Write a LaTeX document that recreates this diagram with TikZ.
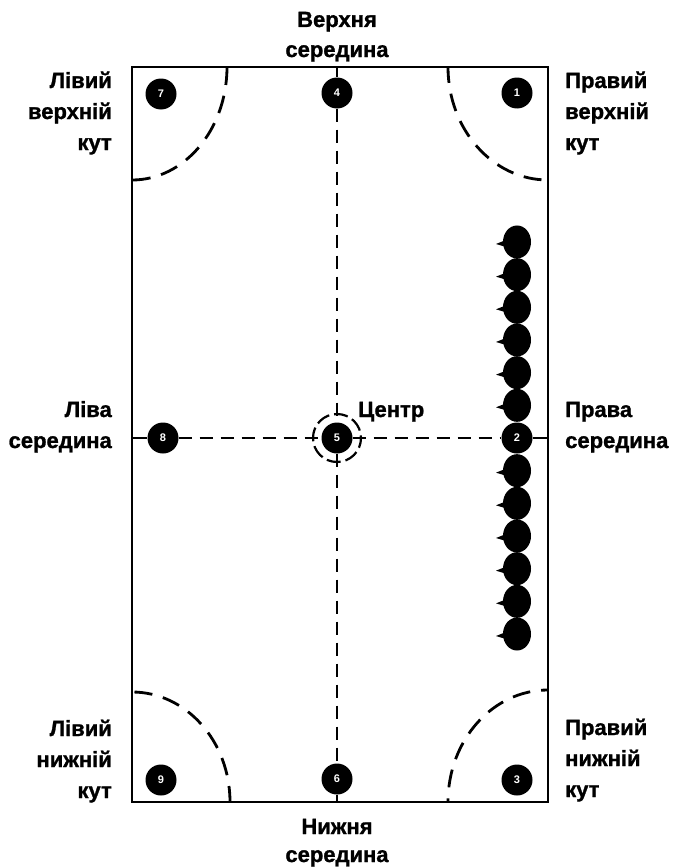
\documentclass[tikz,border=0pt]{standalone}
\usepackage{fontspec}
\setmainfont{Liberation Sans}
\newfontfamily\heavyfont{Liberation Sans Bold}[FakeBold=1.2]
\begin{document}
\begin{tikzpicture}[x=1pt,y=-1pt,
  spot/.style={circle, fill=black, minimum size=31pt, inner sep=0pt, text=white,
    font=\fontsize{11}{11}\selectfont\bfseries},
  lbl/.style={font=\fontsize{22}{31}\selectfont\heavyfont, inner sep=0pt},
  axis/.style={line width=2.2pt, dash pattern=on 13pt off 8pt},
  zone/.style={line width=2.8pt, dash pattern=on 18pt off 11pt},
  teardrop/.pic={
    \fill (0,0) ellipse[x radius=14, y radius=16.5];
    \fill (-11,-2) -- (-21,2) -- (-11,5) -- cycle;
  }]
\useasboundingbox (0,0) rectangle (680,867);

% field outline
\coordinate (tl) at (132,67);
\coordinate (br) at (548,802);
\draw[line width=2pt] (tl) rectangle (br);

% dashed corner zones
\begin{scope}
  \clip (tl) rectangle (br);
  \draw[zone] (132,67)  ellipse[x radius=95, y radius=113];
  \draw[zone] (548,67)  ellipse[x radius=100, y radius=113];
  \draw[zone] (132,802) ellipse[x radius=98, y radius=110];
  \draw[zone] (548,802) ellipse[x radius=100, y radius=112];
\end{scope}

% numbered positions
\node[spot] (p7) at (161,94)  {7};
\node[spot] (p4) at (337,93)  {4};
\node[spot] (p1) at (517,93)  {1};
\node[spot] (p8) at (163,438) {8};
\node[spot] (p5) at (337,438) {5};
\node[spot] (p2) at (517,438) {2};
\node[spot] (p9) at (161,780) {9};
\node[spot] (p6) at (337,779) {6};
\node[spot] (p3) at (517,780) {3};

\coordinate (lm) at (132,438);
\coordinate (rm) at (548,438);
\coordinate (tm) at (337,67);
\coordinate (bm) at (337,802);

% axes through the centre
\draw[line width=2.2pt] (lm) -- (p8);
\draw[line width=2.2pt] (p2) -- (rm);
\draw[axis] (p8) -- (p5);
\draw[axis] (p5) -- (p2);
\draw[line width=2.2pt] (tm) -- (p4);
\draw[axis] (p4) -- (p5);
\draw[axis] (p5) -- (p6);
\draw[line width=2.2pt] (p6) -- (bm);

% ring round the centre
\draw[line width=2.2pt, dash pattern=on 14pt off 5pt, dash phase=4pt] (p5) circle[radius=24];

% column of players on the right
\foreach \k in {-6,...,-1,1,2,...,6}
  \pic at (517,438+32.67*\k) {teardrop};

% labels (base anchor sits on the last line)
\node[lbl, anchor=base] at (337,27) {Верхня};
\node[lbl, anchor=base] at (337,57) {середина};
\node[lbl, anchor=base] at (337,834) {Нижня};
\node[lbl, anchor=base] at (337,862) {середина};

\node[lbl, anchor=base east, align=right] at (112,150) {Лівий\\верхній\\кут};
\node[lbl, anchor=base west, align=left] at (565,150) {Правий\\верхній\\кут};
\node[lbl, anchor=base east, align=right] at (112,448) {Ліва\\середина};
\node[lbl, anchor=base west, align=left] at (565,448) {Права\\середина};
\node[lbl, anchor=base west] at (358,417) {Центр};
\node[lbl, anchor=base east, align=right] at (112,798) {Лівий\\нижній\\кут};
\node[lbl, anchor=base west, align=left] at (565,797) {Правий\\нижній\\кут};
\end{tikzpicture}
\end{document}
